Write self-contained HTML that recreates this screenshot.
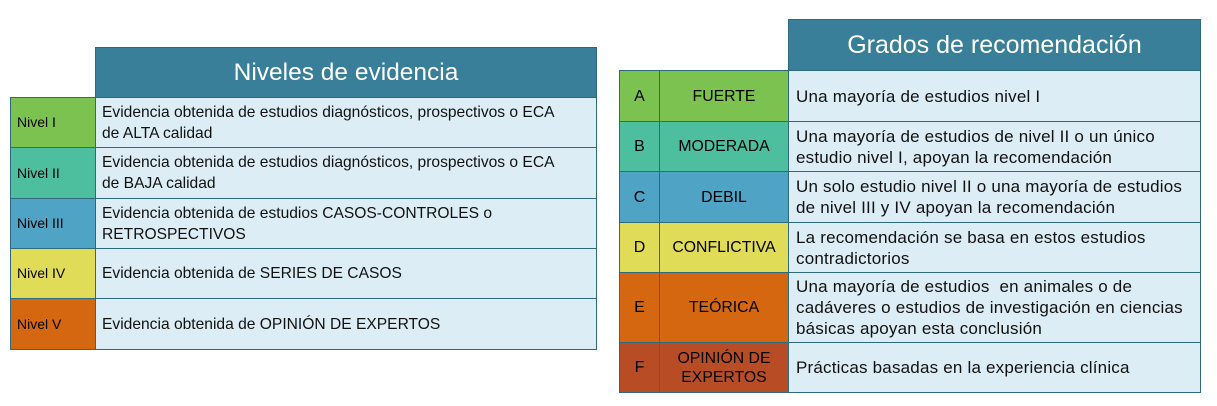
<!DOCTYPE html>
<html><head><meta charset="utf-8"><style>
body{margin:0;width:1217px;height:406px;background:#fff;position:relative;overflow:hidden}
.c{position:absolute;box-sizing:border-box;border:1.5px solid #2f6a7c;display:flex;align-items:center;white-space:nowrap}
.h{background:#3a7f99;color:#fff;justify-content:center}
.t{background:#dcedf5;color:#111}
.L{font-family:"Liberation Sans",sans-serif;font-size:14px;line-height:21px;padding-left:6px}
.t.L{font-size:15.6px}
.R{font-family:"Liberation Sans",sans-serif;font-size:16px;line-height:21px;padding-left:7px}
.t.R{font-size:17px;letter-spacing:0.2px}
.ctr{justify-content:center;text-align:center;padding:0}
.m{font-size:15.8px !important}
</style></head><body>
<div class="c h" style="left:95px;top:47px;width:502px;height:51px;font:24.5px 'Liberation Sans',sans-serif">Niveles de evidencia</div>
<div class="c L" style="left:10px;top:97px;width:86px;height:51px;background:#7cc251">Nivel I</div>
<div class="c t L" style="left:95px;top:97px;width:502px;height:51px">Evidencia obtenida de estudios diagnósticos, prospectivos o ECA<br>de ALTA calidad</div>
<div class="c L" style="left:10px;top:147px;width:86px;height:52px;background:#4dbf9f">Nivel II</div>
<div class="c t L" style="left:95px;top:147px;width:502px;height:52px">Evidencia obtenida de estudios diagnósticos, prospectivos o ECA<br>de BAJA calidad</div>
<div class="c L" style="left:10px;top:198px;width:86px;height:51px;background:#4fa3c4">Nivel III</div>
<div class="c t L" style="left:95px;top:198px;width:502px;height:51px">Evidencia obtenida de estudios CASOS-CONTROLES o<br>RETROSPECTIVOS</div>
<div class="c L" style="left:10px;top:248px;width:86px;height:51px;background:#e1dc58">Nivel IV</div>
<div class="c t L" style="left:95px;top:248px;width:502px;height:51px">Evidencia obtenida de SERIES DE CASOS</div>
<div class="c L" style="left:10px;top:298px;width:86px;height:52px;background:#d4670f">Nivel V</div>
<div class="c t L" style="left:95px;top:298px;width:502px;height:52px">Evidencia obtenida de OPINIÓN DE EXPERTOS</div>

<div class="c h" style="left:788px;top:19px;width:413px;height:52px;font:25px 'Liberation Sans',sans-serif">Grados de recomendación</div>

<div class="c R ctr" style="left:619px;top:70px;width:41px;height:52px;background:#7cc251">A</div>
<div class="c R ctr m" style="left:659px;top:70px;width:130px;height:52px;background:#7cc251">FUERTE</div>
<div class="c t R" style="left:788px;top:70px;width:413px;height:52px">Una mayoría de estudios nivel I</div>

<div class="c R ctr" style="left:619px;top:121px;width:41px;height:51px;background:#4dbf9f">B</div>
<div class="c R ctr m" style="left:659px;top:121px;width:130px;height:51px;background:#4dbf9f">MODERADA</div>
<div class="c t R" style="left:788px;top:121px;width:413px;height:51px">Una mayoría de estudios de nivel II o un único<br>estudio nivel I, apoyan la recomendación</div>

<div class="c R ctr" style="left:619px;top:171px;width:41px;height:52px;background:#4fa3c4">C</div>
<div class="c R ctr m" style="left:659px;top:171px;width:130px;height:52px;background:#4fa3c4">DEBIL</div>
<div class="c t R" style="left:788px;top:171px;width:413px;height:52px">Un solo estudio nivel II o una mayoría de estudios<br>de nivel III y IV apoyan la recomendación</div>

<div class="c R ctr" style="left:619px;top:222px;width:41px;height:51px;background:#e1dc58">D</div>
<div class="c R ctr m" style="left:659px;top:222px;width:130px;height:51px;background:#e1dc58">CONFLICTIVA</div>
<div class="c t R" style="left:788px;top:222px;width:413px;height:51px">La recomendación se basa en estos estudios<br>contradictorios</div>

<div class="c R ctr" style="left:619px;top:272px;width:41px;height:71px;background:#d4670f">E</div>
<div class="c R ctr m" style="left:659px;top:272px;width:130px;height:71px;background:#d4670f">TEÓRICA</div>
<div class="c t R" style="left:788px;top:272px;width:413px;height:71px">Una mayoría de estudios&nbsp; en animales o de<br>cadáveres o estudios de investigación en ciencias<br>básicas apoyan esta conclusión</div>

<div class="c R ctr" style="left:619px;top:342px;width:41px;height:51px;background:#b84d25">F</div>
<div class="c R ctr m" style="left:659px;top:342px;width:130px;height:51px;background:#b84d25;line-height:19px">OPINIÓN DE<br>EXPERTOS</div>
<div class="c t R" style="left:788px;top:342px;width:413px;height:51px">Prácticas basadas en la experiencia clínica</div>
</body></html>
